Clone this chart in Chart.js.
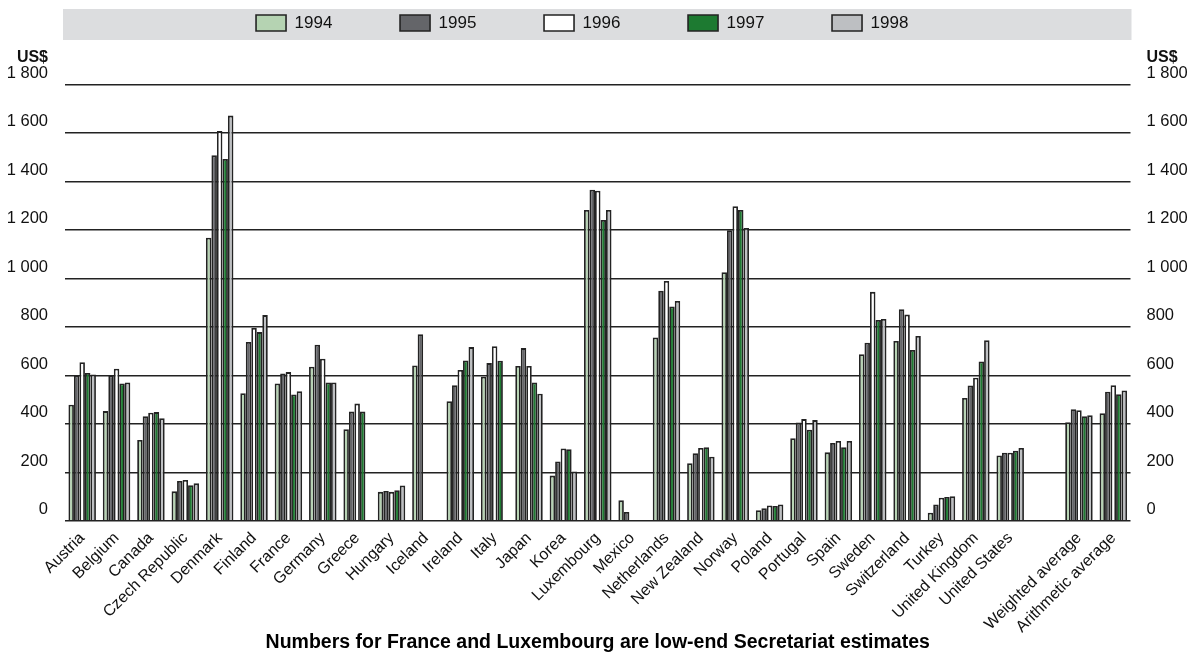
<!DOCTYPE html>
<html>
<head>
<meta charset="utf-8">
<script src="https://cdn.jsdelivr.net/npm/chart.js@4/dist/chart.umd.min.js"></script>
<style>
  html, body { margin: 0; padding: 0; background: #ffffff; }
  canvas { display: block; }
</style>
</head>
<body>
<canvas id="c" width="1188" height="656"></canvas>
<script>
const categories = ['Austria','Belgium','Canada','Czech Republic','Denmark','Finland','France','Germany','Greece','Hungary','Iceland','Ireland','Italy','Japan','Korea','Luxembourg','Mexico','Netherlands','New Zealand','Norway','Poland','Portugal','Spain','Sweden','Switzerland','Turkey','United Kingdom','United States','','Weighted average','Arithmetic average'];

const years = ['1994','1995','1996','1997','1998'];

const v1994 = [478,452,333,121,1167,526,566,635,377,119,640,493,594,638,186,1282,84,756,237,1025,43,340,282,687,741,33,506,269,null,406,443];
const v1995 = [599,599,431,164,1507,737,607,726,450,123,769,559,650,712,244,1365,36,948,278,1198,51,405,321,734,872,67,558,280,null,460,532];
const v1996 = [654,627,445,168,1607,795,613,668,483,119,null,622,720,638,298,1361,null,989,300,1297,63,419,329,944,850,95,590,280,null,456,559];
const v1997 = [609,566,448,146,1492,778,521,570,450,126,null,661,660,570,295,1240,null,884,303,1282,61,375,303,828,704,98,657,289,null,431,522];
const v1998 = [603,570,423,154,1671,848,534,570,null,145,null,716,null,524,203,1282,null,906,264,1207,67,415,329,832,762,101,744,300,null,435,537];

const yTickLabels = ['0','200','400','600','800','1 000','1 200','1 400','1 600','1 800'];
const unitLabel = 'US$';
const footnote = 'Numbers for France and Luxembourg are low-end Secretariat estimates';

const colors = ['#b5d3b2','#646569','#ffffff','#1d7a31','#bdbfc2'];
const seriesValues = [v1994, v1995, v1996, v1997, v1998];

const FONT = "'Liberation Sans', Arial, sans-serif";
const LEGEND_FONT = "'Liberation Sans Narrow', 'Liberation Sans', Arial, sans-serif";
const LEGEND_SIZE = 17;
const LEGEND_PAD = 11;
const BOX_W = 30;

// trailing spaces so legend items are spread like the original
const mctx = document.createElement('canvas').getContext('2d');
mctx.font = LEGEND_SIZE + 'px ' + LEGEND_FONT;
const wSpace = mctx.measureText('          ').width / 10;
function spacesFor(text, targetItemW) {
  const w = mctx.measureText(text).width;
  const n = Math.max(0, Math.round((targetItemW - BOX_W - LEGEND_SIZE / 2 - w) / wSpace));
  return ' '.repeat(n);
}
const STEP = 144.5;
const padded = years.map((y, i) => {
  if (i < years.length - 1) return y + spacesFor(y, STEP - LEGEND_PAD);
  return y;
});
{
  const actual = years.slice(0, 4).map((y, i) => BOX_W + LEGEND_SIZE / 2 + mctx.measureText(padded[i]).width + LEGEND_PAD);
  const sum = actual.reduce((a, b) => a + b, 0);
  const lastW = (1188 + LEGEND_PAD - 2 * 256) - sum - LEGEND_PAD;
  padded[4] = years[4] + spacesFor(years[4], lastW);
}

const datasets = years.map((y, i) => ({
  label: y,
  data: seriesValues[i],
  backgroundColor: colors[i],
  borderColor: '#232323',
  borderWidth: 1.8,
  categoryPercentage: 0.8,
  barPercentage: 1.0,
  yAxisID: 'y'
}));

const bandPlugin = {
  id: 'band',
  beforeDraw(chart) {
    const ctx = chart.ctx;
    const a = chart.chartArea;
    ctx.save();
    ctx.fillStyle = '#ffffff';
    ctx.fillRect(0, 0, chart.width, chart.height);
    ctx.fillStyle = '#dcdddf';
    ctx.fillRect(a.left - 2, 9, a.right - a.left + 3, 31);
    ctx.restore();
  },
  afterDraw(chart) {
    const ctx = chart.ctx;
    const a = chart.chartArea;
    ctx.save();
    ctx.fillStyle = '#111';
    ctx.font = "bold 16px " + FONT;
    ctx.textBaseline = 'middle';
    ctx.textAlign = 'right';
    ctx.fillText(unitLabel, a.left - 17, 57.5);
    ctx.textAlign = 'left';
    ctx.fillText(unitLabel, a.right + 16, 57.5);
    ctx.restore();
  }
};

new Chart(document.getElementById('c'), {
  type: 'bar',
  data: { labels: categories, datasets },
  plugins: [bandPlugin],
  options: {
    responsive: false,
    animation: false,
    layout: { padding: { left: 0, right: 0, top: 3.5, bottom: 0 } },
    plugins: {
      tooltip: { enabled: false },
      title: {
        display: true,
        text: '',
        weight: 500,
        font: { size: 10 },
        padding: { top: 30.8, bottom: 0 }
      },
      legend: {
        position: 'top',
        align: 'center',
        labels: {
          boxWidth: BOX_W,
          boxHeight: 16,
          padding: LEGEND_PAD,
          color: '#111',
          font: { family: LEGEND_FONT, size: LEGEND_SIZE },
          generateLabels: (chart) => Chart.defaults.plugins.legend.labels.generateLabels(chart)
            .map((l, i) => Object.assign({}, l, { text: padded[i], lineWidth: 1.6, strokeStyle: '#232323' }))
        }
      }
    },
    scales: {
      x: {
        grid: { display: false },
        border: { display: false },
        ticks: {
          autoSkip: false,
          maxRotation: 45,
          minRotation: 45,
          padding: 0,
          color: '#111',
          font: { family: FONT, size: 16 }
        },
        title: {
          display: true,
          text: footnote,
          color: '#000',
          font: { family: FONT, size: 19.5, weight: 'bold' },
          padding: { top: 0, bottom: 1.3 }
        },
        afterFit(s) { s.height = 135.3; }
      },
      y: {
        position: 'left',
        min: 0,
        max: 1800,
        grid: { color: '#222', lineWidth: 1.4, drawTicks: false },
        border: { display: false },
        ticks: {
          stepSize: 200,
          padding: 17,
          labelOffset: -11,
          color: '#111',
          font: { family: FONT, size: 16.5 },
          callback: (v, i) => yTickLabels[i]
        },
        afterFit(s) { s.width = 65; }
      },
      y2: {
        position: 'right',
        min: 0,
        max: 1800,
        grid: { display: false, drawTicks: false },
        border: { display: false },
        ticks: {
          stepSize: 200,
          padding: 16,
          labelOffset: -11,
          color: '#111',
          font: { family: FONT, size: 16.5 },
          callback: (v, i) => yTickLabels[i]
        },
        afterFit(s) { s.width = 57.5; }
      }
    }
  }
});
</script>
</body>
</html>
